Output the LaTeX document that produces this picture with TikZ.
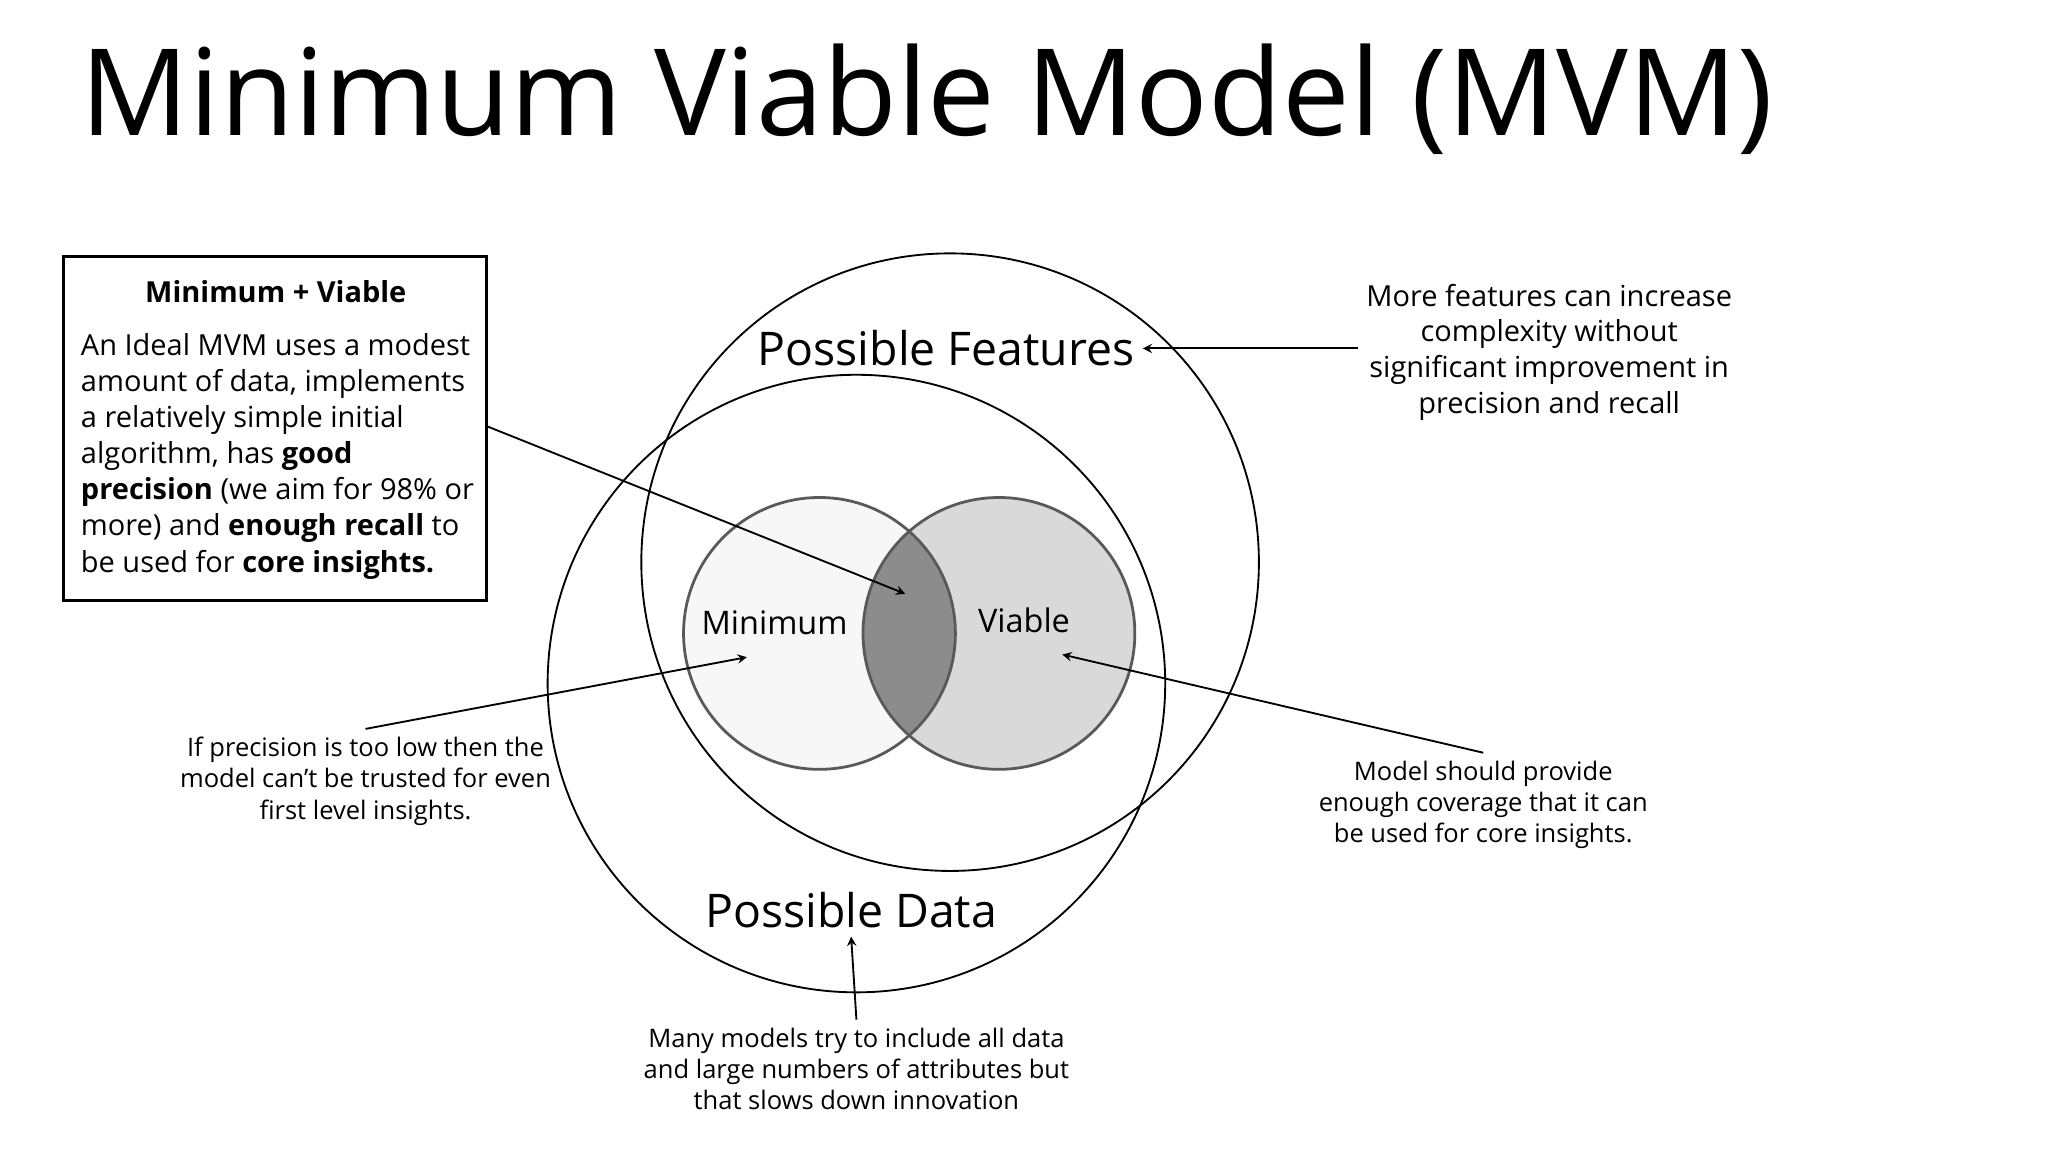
\documentclass[tikz,border=0pt]{standalone}
\usepackage{fontspec}
\setmainfont{Open Sans}
\usetikzlibrary{arrows,positioning}
\tikzset{
	note/.style={align=center,font=\fontsize{11}{13.5}\selectfont},
	bignote/.style={align=center,font=\fontsize{12.5}{15.5}\selectfont},
	setlabel/.style={font=\fontsize{20}{24}\selectfont},
	vennlabel/.style={font=\fontsize{14}{17}\selectfont},
	pointer/.style={thick,->,>=stealth}
}
\begin{document}
\begin{tikzpicture}[x=0.02cm,y=-0.02cm]
	\useasboundingbox (0,0) rectangle (1552,873);
	%
	\node[anchor=west,font=\fontsize{52}{60}\selectfont] (title) at (55,75) {Minimum Viable Model (MVM)};
	
	% big sets
	\draw[thick] (720,426) circle (234);
	\draw[thick] (649,518) circle (234);
	\node[setlabel] (feat) at (717,264) {Possible Features};
	\node[setlabel] (data) at (645,690) {Possible Data};
	
	% minimum and viable
	\fill[gray!6] (621,480) circle (103);
	\fill[gray!30] (757,480) circle (103);
	\begin{scope}
		\clip (621,480) circle (103);
		\fill[gray!80!black!75] (757,480) circle (103);
	\end{scope}
	\draw[gray!70!black,line width=1.2pt] (621,480) circle (103);
	\draw[gray!70!black,line width=1.2pt] (757,480) circle (103);
	\node[vennlabel] (mini) at (587,472) {Minimum};
	\node[vennlabel] (viab) at (776,470) {Viable};
	\coordinate (inter) at (686,450);
	\coordinate (minipt) at (566,498);
	\coordinate (viabpt) at (805,496);
	
	% ideal box
	\draw[line width=1.3pt] (48,194) rectangle (369,455);
	\node[font=\fontsize{12.5}{15}\selectfont\bfseries] (boxtitle) at (209,221) {Minimum + Viable};
	\node[anchor=north west,align=left,inner sep=0pt,font=\fontsize{12.5}{15.6}\selectfont] (boxtext) at (61,252) {An Ideal MVM uses a modest\\amount of data, implements\\a relatively simple initial\\algorithm, has \textbf{good}\\\textbf{precision} (we aim for 98\% or\\more) and \textbf{enough recall} to\\be used for \textbf{core insights.}};
	\coordinate (boxpt) at (369,323);
	
	% notes
	\node[bignote] (featnote) at (1174,267) {More features can increase\\complexity without\\significant improvement in\\precision and recall};
	\node[note] (mininote) at (277,592) {If precision is too low then the\\model can't be trusted for even\\first level insights.};
	\node[note] (viabnote) at (1124,610) {Model should provide\\enough coverage that it can\\be used for core insights.};
	\node[note] (datanote) at (649,810) {Many models try to include all data\\and large numbers of attributes but\\that slows down innovation};
	
	% pointers
	\draw[pointer] (boxpt) -- (inter);
	\draw[pointer] (mininote.north) -- (minipt);
	\draw[pointer] (viabnote.north) -- (viabpt);
	\draw[pointer] (featnote.west |- feat) -- (feat.east);
	\draw[pointer] (datanote.north) -- (data.south);
\end{tikzpicture}
\end{document}
